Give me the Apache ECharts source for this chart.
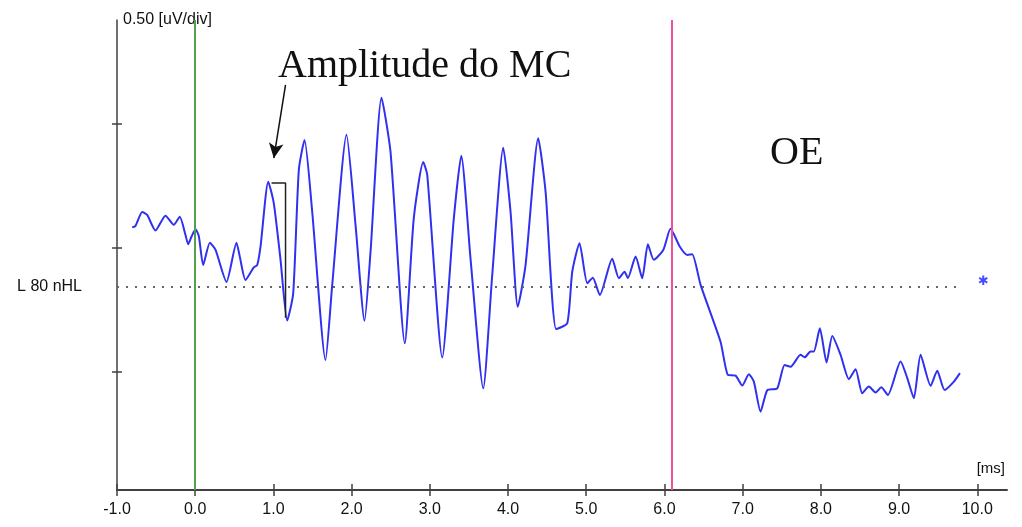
<!DOCTYPE html>
<html>
<head>
<meta charset="utf-8">
<script src="https://cdn.jsdelivr.net/npm/echarts@6/dist/echarts.min.js"></script>
<style>
    html, body { margin: 0; padding: 0; background: #fff; }
    #main { width: 1022px; height: 527px; }
</style>
</head>
<body>
<div id="main"></div>
<script>
// waveform (ms, uV)
var timeMs = [-0.806, -0.763, -0.678, -0.614, -0.508, -0.380, -0.274, -0.197, -0.124, -0.090,
    -0.047, 0.004, 0.046, 0.102, 0.187, 0.260, 0.400, 0.528, 0.570, 0.643,
    0.749, 0.793, 0.835, 0.934, 1.005, 1.091, 1.176, 1.253, 1.325, 1.398,
    1.496, 1.666, 1.752, 1.935, 2.050, 2.165, 2.242, 2.382, 2.497, 2.680,
    2.795, 2.916, 2.967, 3.159, 3.307, 3.402, 3.520, 3.683, 3.798, 3.939,
    4.032, 4.125, 4.224, 4.386, 4.480, 4.616, 4.757, 4.821, 4.914, 5.013,
    5.084, 5.174, 5.332, 5.417, 5.490, 5.532, 5.631, 5.716, 5.788, 5.864,
    5.985, 6.078, 6.197, 6.292, 6.355, 6.462, 6.717, 6.811, 6.909, 6.995,
    7.079, 7.143, 7.229, 7.315, 7.442, 7.536, 7.613, 7.740, 7.792, 7.868,
    7.910, 7.987, 8.073, 8.146, 8.252, 8.358, 8.444, 8.529, 8.614, 8.700,
    8.772, 8.857, 9.019, 9.105, 9.189, 9.275, 9.403, 9.488, 9.582, 9.701, 9.778];
var amplitudeUv = [0.083, 0.089, 0.145, 0.133, 0.070, 0.130, 0.093, 0.126, 0.052, 0.015,
    0.046, 0.075, 0.048, -0.069, 0.021, -0.008, -0.137, 0.021, -0.035, -0.129,
    -0.078, -0.069, 0.005, 0.267, 0.180, -0.048, -0.293, -0.183, 0.315, 0.435,
    0.146, -0.452, -0.149, 0.456, 0.093, -0.294, -0.015, 0.606, 0.388, -0.384,
    0.120, 0.346, 0.294, -0.442, 0.120, 0.372, -0.042, -0.566, -0.109, 0.404,
    0.146, -0.237, -0.069, 0.442, 0.227, -0.327, -0.304, -0.096, 0.019, -0.142,
    -0.120, -0.190, -0.044, -0.122, -0.096, -0.122, -0.035, -0.122, 0.015, -0.048,
    -0.008, 0.077, 0.005, -0.028, -0.025, -0.149, -0.378, -0.512, -0.515, -0.555,
    -0.509, -0.539, -0.660, -0.573, -0.566, -0.472, -0.479, -0.431, -0.441, -0.418,
    -0.418, -0.324, -0.462, -0.355, -0.431, -0.529, -0.489, -0.586, -0.559, -0.583,
    -0.562, -0.593, -0.458, -0.525, -0.606, -0.431, -0.556, -0.495, -0.573, -0.539, -0.505];

var xTicks = [-1, 0, 1, 2, 3, 4, 5, 6, 7, 8, 9, 10];
var yTicks = [-0.5, 0, 0.5];
var baselineUv = -0.156;
var baselineEndMs = 9.8;
var stimulusMs = 0;
var oeMs = 6.09;
var starPoint = [10.08, -0.137];

// bracket and arrow marking the MC amplitude
var bracketMs = [0.976, 1.155, 1.155];
var bracketUv = [0.262, 0.262, -0.282];
var arrowFrom = [1.155, 0.657];
var arrowTo = [1.005, 0.362];

var sans = '"Liberation Sans Narrow", "Liberation Sans", Arial, sans-serif';
var axisColor = '#404040';

var wave = timeMs.map(function (t, i) { return [t, amplitudeUv[i]]; });
var bracket = bracketMs.map(function (t, i) { return [t, bracketUv[i]]; });

var myChart = echarts.init(document.getElementById('main'));

var option = {
    backgroundColor: '#fff',
    animation: false,
    grid: { left: 117, right: 15, top: 20, bottom: 37 },
    xAxis: [
        {
            type: 'value',
            min: -1,
            max: 10.38,
            splitLine: { show: false },
            axisLine: { onZero: false, lineStyle: { color: axisColor, width: 2 } },
            axisTick: { customValues: xTicks, length: 6, lineStyle: { color: axisColor, width: 1.5 } },
            axisLabel: {
                customValues: xTicks,
                margin: 12,
                color: '#111',
                fontFamily: sans,
                fontSize: 16,
                formatter: function (v) { return v.toFixed(1); }
            },
            name: '[ms]',
            nameLocation: 'end',
            nameGap: 0,
            nameTextStyle: {
                color: '#111', fontFamily: sans, fontSize: 15,
                align: 'right', verticalAlign: 'bottom', padding: [0, 2, 14, 0]
            }
        },
        {
            // same scale, ticks pointing up so they cross the axis line
            type: 'value',
            position: 'bottom',
            min: -1,
            max: 10.38,
            splitLine: { show: false },
            axisLine: { show: false, onZero: false },
            axisTick: { customValues: xTicks, inside: true, length: 6, lineStyle: { color: axisColor, width: 1.5 } },
            axisLabel: { show: false }
        }
    ],
    yAxis: [
        {
            type: 'value',
            min: -0.976,
            max: 0.919,
            splitLine: { show: false },
            axisLine: { show: true, onZero: false, lineStyle: { color: axisColor, width: 1.5 } },
            axisTick: { show: true, customValues: yTicks, length: 5, lineStyle: { color: axisColor, width: 1.5 } },
            axisLabel: {
                customValues: [baselineUv],
                margin: 35,
                color: '#111',
                fontFamily: sans,
                fontSize: 16,
                formatter: function () { return 'L 80 nHL'; }
            },
            name: '0.50 [uV/div]',
            nameLocation: 'end',
            nameGap: 0,
            nameTextStyle: {
                color: '#111', fontFamily: sans, fontSize: 16,
                align: 'left', verticalAlign: 'middle', padding: [2, 0, 0, 6]
            }
        },
        {
            type: 'value',
            position: 'left',
            min: -0.976,
            max: 0.919,
            splitLine: { show: false },
            axisLine: { show: false, onZero: false },
            axisTick: { show: true, customValues: yTicks, inside: true, length: 5, lineStyle: { color: axisColor, width: 1.5 } },
            axisLabel: { show: false }
        }
    ],
    graphic: [
        {
            type: 'text', left: 278, top: 46,
            style: { text: 'Amplitude do MC', font: '40px "Liberation Serif", "Times New Roman", serif', fill: '#111' }
        },
        {
            type: 'text', left: 770, top: 133,
            style: { text: 'OE', font: '40px "Liberation Serif", "Times New Roman", serif', fill: '#111' }
        }
    ],
    series: [
        {
            name: 'markers',
            type: 'line',
            data: [],
            z: 1,
            markLine: {
                silent: true,
                symbol: 'none',
                label: { show: false },
                animation: false,
                data: [
                    { xAxis: stimulusMs, lineStyle: { color: '#55a04c', width: 2, type: 'solid' } },
                    { xAxis: oeMs, lineStyle: { color: '#f24e9e', width: 2, type: 'solid' } },
                    [
                        { coord: [-1, baselineUv], lineStyle: { color: '#666', width: 2, type: [2, 7] } },
                        { coord: [baselineEndMs, baselineUv] }
                    ]
                ]
            }
        },
        {
            name: 'ABR',
            type: 'line',
            data: wave,
            z: 3,
            smooth: 0.2,
            showSymbol: false,
            lineStyle: { color: '#3030f0', width: 2 }
        },
        {
            name: 'bracket',
            type: 'line',
            data: bracket,
            z: 4,
            showSymbol: false,
            lineStyle: { color: '#222', width: 1.5 },
            markLine: {
                silent: true,
                symbol: ['none', 'arrow'],
                symbolSize: [11, 15],
                label: { show: false },
                lineStyle: { color: '#111', width: 1.5, type: 'solid' },
                data: [[{ coord: arrowFrom }, { coord: arrowTo }]]
            }
        },
        {
            name: 'star',
            type: 'scatter',
            data: [starPoint],
            symbolSize: 0,
            label: {
                show: true,
                position: 'inside',
                formatter: '\u2731',
                fontFamily: '"DejaVu Sans", sans-serif',
                fontSize: 13,
                color: '#1a1aff'
            }
        }
    ]
};

myChart.setOption(option);
</script>
</body>
</html>
